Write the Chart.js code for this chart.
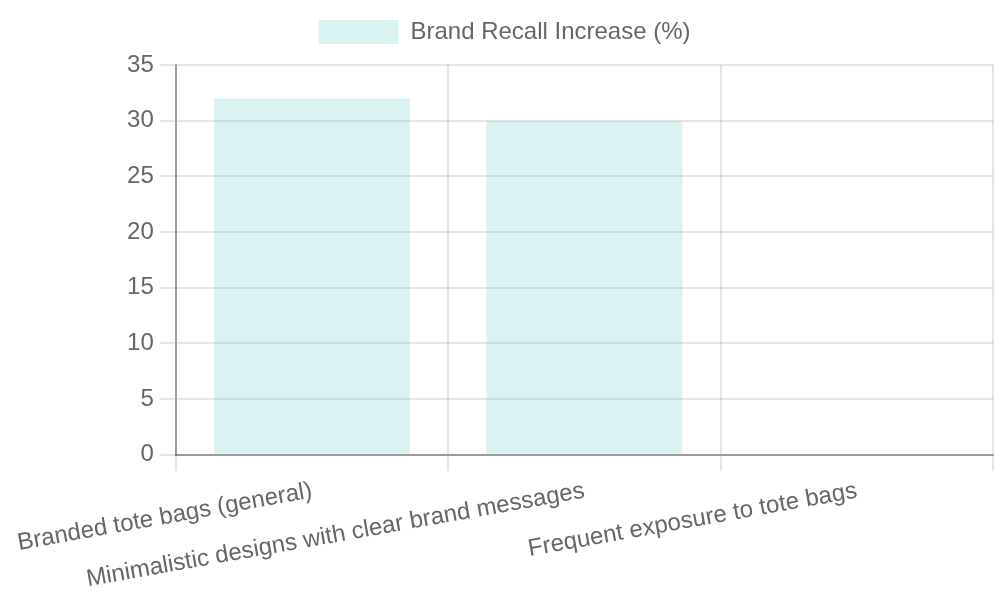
<!DOCTYPE html>
<html>
<head>
<meta charset="utf-8">
<script src="https://cdn.jsdelivr.net/npm/chart.js@4/dist/chart.umd.min.js"></script>
<style>
  body { margin: 0; background: #fff; }
  #wrap { width: 1000px; height: 600px; }
</style>
</head>
<body>
<div id="wrap"><canvas id="myChart"></canvas></div>
<script>
const categories = ['Branded tote bags (general)', 'Minimalistic designs with clear brand messages', 'Frequent exposure to tote bags'];
const recallValues = [32, 30, 0];
const seriesLabel = 'Brand Recall Increase (%)';

Chart.defaults.font.family = '"Liberation Sans", Arial, sans-serif';
Chart.defaults.font.size = 24;
Chart.defaults.color = '#666';

// everything drawn at double size (chart looks like a 500x300 chart at pixel ratio 2)
const gridStyle = { lineWidth: 2, tickLength: 16, color: 'rgba(0, 0, 0, 0.1)' };
const borderStyle = { width: 2, color: 'rgba(0, 0, 0, 0.32)' };

// a bit more room under the legend
const legendGap = {
    id: 'legendGap',
    beforeInit(chart) {
        const fit = chart.legend.fit;
        chart.legend.fit = function () {
            fit.call(this);
            this.height += 11;
        };
    }
};

const ctx = document.getElementById('myChart').getContext('2d');
const myChart = new Chart(ctx, {
    type: 'bar',
    data: {
        labels: categories,
        datasets: [{
            label: seriesLabel,
            data: recallValues,
            backgroundColor: 'rgba(75, 192, 192, 0.2)',
            borderWidth: 0
        }]
    },
    options: {
        responsive: true,
        maintainAspectRatio: false,
        animation: false,
        layout: { padding: { left: 16, right: 7 } },
        plugins: {
            legend: {
                labels: { boxWidth: 80, boxHeight: 24, padding: 20 }
            }
        },
        scales: {
            x: {
                grid: gridStyle,
                border: borderStyle,
                ticks: { padding: 6 }
            },
            y: {
                beginAtZero: true,
                max: 35,
                ticks: { stepSize: 5, padding: 6 },
                grid: gridStyle,
                border: borderStyle
            }
        }
    },
    plugins: [legendGap]
});
</script>
</body>
</html>
